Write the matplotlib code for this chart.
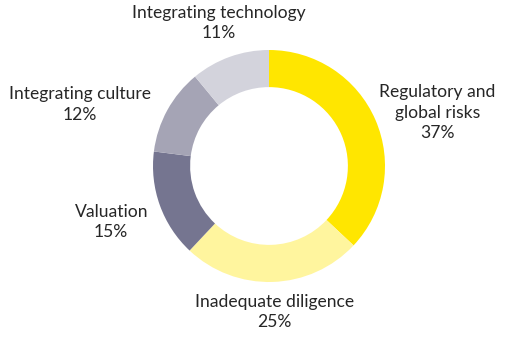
import matplotlib
matplotlib.use("Agg")
import matplotlib.pyplot as plt

# data
labels = ["Regulatory and\nglobal risks", "Inadequate diligence", "Valuation",
          "Integrating culture", "Integrating technology"]
shares = [37, 25, 15, 12, 11]
colors = ["#FFE600", "#FFF59E", "#757590", "#A5A4B5", "#D3D3DC"]

# label centres in units of the outer radius
label_pos = [(1.45, 0.46), (0.05, -1.26), (-1.36, -0.48), (-1.63, 0.53), (-0.43, 1.23)]

plt.rcParams['font.family'] = ['Lato', 'DejaVu Sans']

fig = plt.figure(figsize=(5.07, 3.43), dpi=100)
ax = fig.add_axes([0, 0, 1, 1])

ax.pie(shares, colors=colors, startangle=90, counterclock=False, radius=1.0,
       wedgeprops=dict(width=0.32, linewidth=0))

for lab, val, (x, y) in zip(labels, shares, label_pos):
    ax.text(x, y, "{0}\n{1}%".format(lab, val), ha="center", va="center",
            fontsize=12.6, color="#262626", linespacing=1.32)

ax.set_xlim(-269 / 116, (507 - 269) / 116)
ax.set_ylim(-(343 - 166) / 116, 166 / 116)
ax.set_aspect("auto")
ax.axis("off")

fig.savefig("out.png", dpi=100, facecolor="white")
